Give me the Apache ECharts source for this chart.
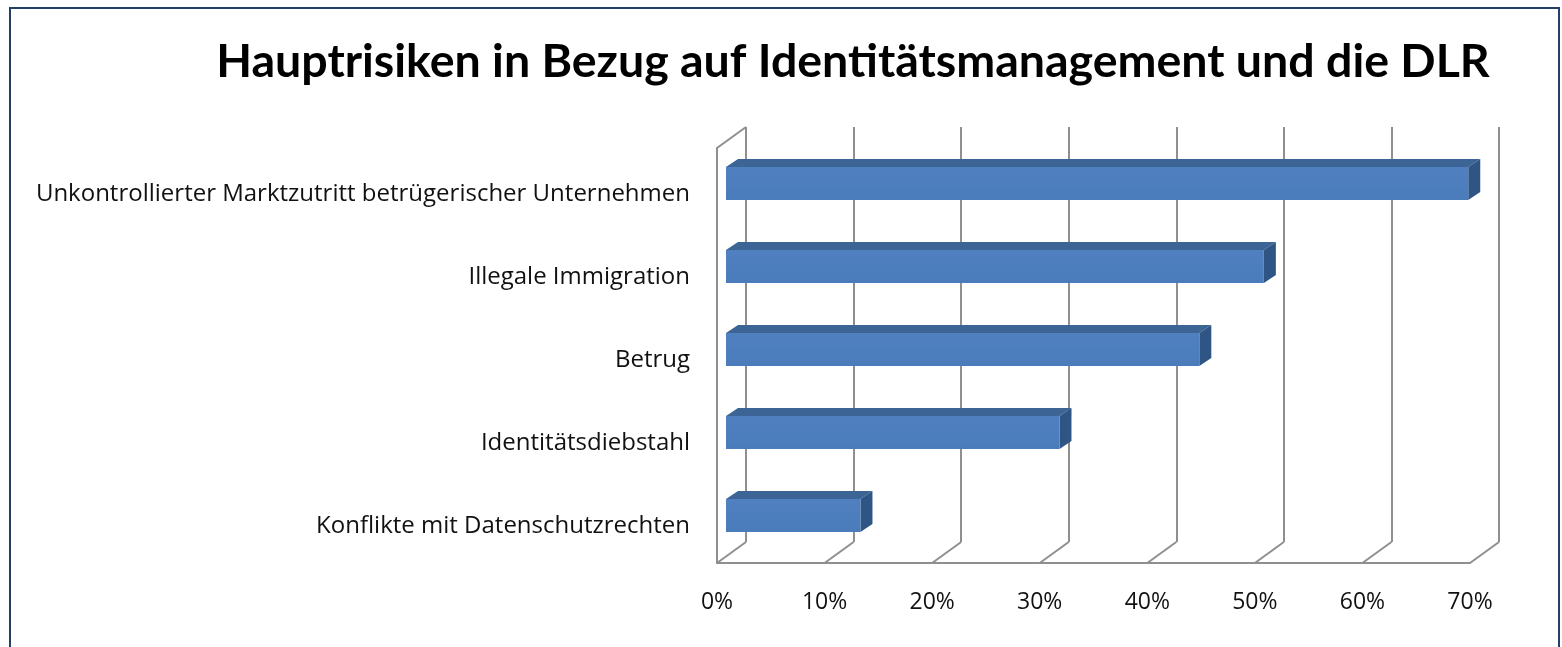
<!DOCTYPE html>
<html>
<head>
<meta charset="utf-8">
<script src="https://cdn.jsdelivr.net/npm/echarts@6/dist/echarts.min.js"></script>
<style>
    html, body { margin: 0; padding: 0; background: #fff; overflow: hidden; }
    .frame { position: absolute; left: 9px; top: 7px; width: 1551px; height: 700px; border: 2px solid #243f66; box-sizing: border-box; }
    #chart { position: absolute; left: 0; top: 0; width: 1562px; height: 647px; }
</style>
</head>
<body>
<div class="frame"></div>
<div id="chart"></div>
<script>
    // data
    const titleText = 'Hauptrisiken in Bezug auf Identitätsmanagement und die DLR';
    const categories = [
        'Unkontrollierter Marktzutritt betrügerischer Unternehmen',
        'Illegale Immigration',
        'Betrug',
        'Identitätsdiebstahl',
        'Konflikte mit Datenschutzrechten'
    ];
    const values = [0.69, 0.50, 0.44, 0.31, 0.125];
    const ticks = [0, 0.1, 0.2, 0.3, 0.4, 0.5, 0.6, 0.7];

    const gridColor = '#8f8f8f';
    const depthX = 29, depthY = 21;     // wall depth
    const barDx = 9, barDy = 6;         // bar front plane offset
    const barDepthX = 12, barDepthY = 8;
    const barH = 33;

    let myChart = echarts.init(document.getElementById('chart'));
    myChart.setOption({
        animation: false,
        graphic: [{
            type: 'text',
            x: 853, y: 62,
            style: {
                text: titleText,
                font: 'bold 46.5px Lato',
                fill: '#000',
                align: 'center',
                verticalAlign: 'middle'
            }
        }],
        grid: [
            {left: 717, right: 92, top: 148, bottom: 84},   // front plane
            {left: 746, right: 63, top: 127, bottom: 105}   // back wall
        ],
        xAxis: [
            {
                type: 'value', gridIndex: 0, min: 0, max: 0.7, interval: 0.1,
                axisLine: {show: true, lineStyle: {color: gridColor, width: 2}},
                axisTick: {show: false},
                splitLine: {show: false},
                axisLabel: {
                    margin: 28, fontFamily: 'Open Sans', fontSize: 23, color: '#111',
                    formatter: v => Math.round(v * 100) + '%'
                }
            },
            {
                type: 'value', gridIndex: 1, min: 0, max: 0.7, interval: 0.1,
                axisLine: {show: false}, axisTick: {show: false}, axisLabel: {show: false},
                splitLine: {show: true, lineStyle: {color: gridColor, width: 2}}
            }
        ],
        yAxis: [
            {
                type: 'category', gridIndex: 0, inverse: true, data: categories,
                axisLine: {show: true, lineStyle: {color: gridColor, width: 2}},
                axisTick: {show: false},
                axisLabel: {
                    margin: 27,
                    formatter: v => '{a|' + v + '}',
                    rich: {
                        a: {fontFamily: 'Open Sans', fontSize: 24, color: '#111', padding: [10, 0, 0, 0]}
                    }
                }
            },
            {
                type: 'category', gridIndex: 1, inverse: true, data: categories, show: false
            }
        ],
        series: [
            {
                // floor diagonals and top edge of the side wall
                type: 'custom', xAxisIndex: 0, yAxisIndex: 0, silent: true,
                data: ticks.map(t => [t, 0]),
                renderItem: function (params, api) {
                    const cs = params.coordSys;
                    const x = api.coord([api.value(0), 0])[0];
                    const yb = cs.y + cs.height;
                    const children = [{
                        type: 'line',
                        shape: {x1: x, y1: yb, x2: x + depthX, y2: yb - depthY},
                        style: {stroke: gridColor, lineWidth: 2}
                    }];
                    if (params.dataIndex === 0) {
                        children.push({
                            type: 'line',
                            shape: {x1: x, y1: cs.y, x2: x + depthX, y2: cs.y - depthY},
                            style: {stroke: gridColor, lineWidth: 2}
                        });
                    }
                    return {type: 'group', children: children};
                }
            },
            {
                type: 'custom', xAxisIndex: 0, yAxisIndex: 0,
                data: values.map((v, i) => [v, i]),
                renderItem: function (params, api) {
                    const p0 = api.coord([0, api.value(1)]);
                    const p1 = api.coord([api.value(0), api.value(1)]);
                    const x0 = p0[0] + barDx, x1 = p1[0] + barDx;
                    const yc = p0[1] - barDy;
                    const top = yc - barH / 2, bottom = yc + barH / 2;
                    return {
                        type: 'group',
                        children: [
                            {
                                type: 'polygon',
                                shape: {points: [[x0, top], [x0 + barDepthX, top - barDepthY], [x1 + barDepthX, top - barDepthY], [x1, top]]},
                                style: {fill: '#3c6596'}
                            },
                            {
                                type: 'polygon',
                                shape: {points: [[x1, top], [x1 + barDepthX, top - barDepthY], [x1 + barDepthX, bottom - barDepthY], [x1, bottom]]},
                                style: {fill: '#2f5585'}
                            },
                            {
                                type: 'rect',
                                shape: {x: x0, y: top, width: x1 - x0, height: barH},
                                style: {
                                    fill: new echarts.graphic.LinearGradient(0, 0, 0, 1, [
                                        {offset: 0, color: '#5080bf'},
                                        {offset: 1, color: '#4a7bba'}
                                    ])
                                }
                            }
                        ]
                    };
                }
            }
        ]
    });
</script>
</body>
</html>
